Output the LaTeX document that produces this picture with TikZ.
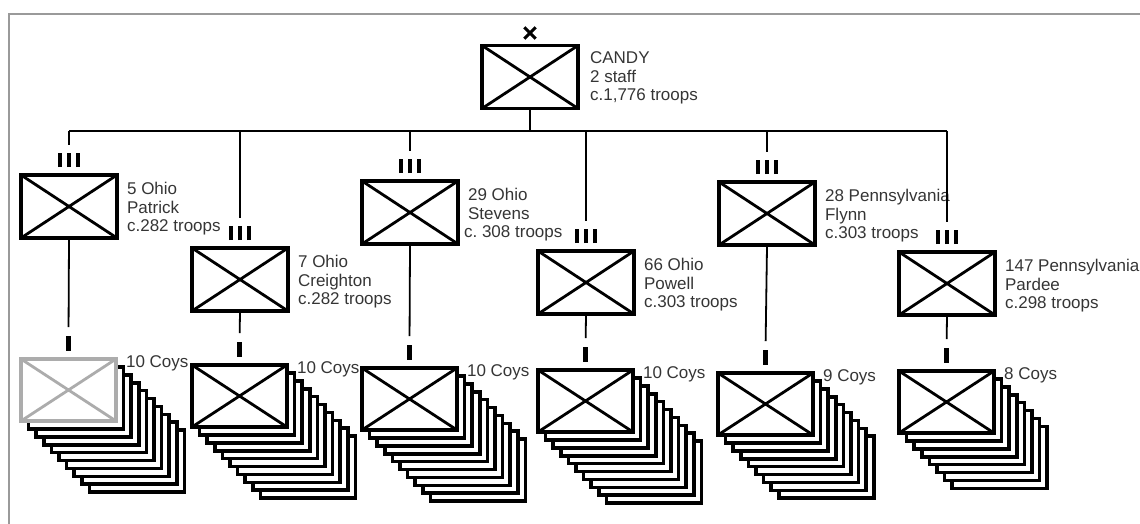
\documentclass[tikz,border=0pt]{standalone}
\usepackage{fontspec}
\setmainfont{Liberation Sans}
\usepackage{xcolor}
\usepackage{tikz}
\usetikzlibrary{calc}
\definecolor{inkgray}{HTML}{353535}
\definecolor{framegray}{HTML}{9A9A9A}
\newcommand{\tribar}{\rule{4.4pt}{14pt}\hspace{4.4pt}\rule{4.4pt}{14pt}\hspace{4.4pt}\rule{4.4pt}{14pt}}
\tikzset{
  unitbox/.style={draw=#1,line width=3.8pt,fill=white,minimum width=96pt,minimum height=63pt,inner sep=0pt,
    path picture={\draw[#1,line width=2.8pt] (path picture bounding box.north west) -- (path picture bounding box.south east)
      (path picture bounding box.south west) -- (path picture bounding box.north east);}},
  unitbox/.default=black,
  coybox/.style={unitbox=#1,minimum width=95pt,minimum height=62pt},
  coybox/.default=black,
  backbox/.style={draw=black,line width=3.6pt,fill=white,minimum width=95pt,minimum height=62pt,inner sep=0pt},
  echelon/.style={inner sep=0pt,outer sep=0pt},
  coydash/.style={fill=black,minimum width=4.4pt,minimum height=15pt,inner sep=0pt,outer sep=0pt},
  regtext/.style={anchor=north west,align=left,inner sep=0pt,text=inkgray,font=\fontsize{17}{18.5}\selectfont},
  coytext/.style={anchor=west,inner sep=0pt,text=inkgray,font=\fontsize{17}{18.5}\selectfont},
  link/.style={black,line width=1.8pt},
  frameline/.style={framegray,line width=1.3pt}
}

\begin{document}
\begin{tikzpicture}[x=1pt,y=-1pt]
  \useasboundingbox (0,0) rectangle (1140,524);
  % frame
  \draw[frameline] (8,14) -- (1140,14);
  \draw[frameline] (9,14) -- (9,524);
  % brigade
  \node[unitbox] (candy) at (530,77) {};
  \node[minimum size=11pt,inner sep=0pt] (xmark) at (530,33) {};
  \draw[line width=3pt] (xmark.north west) -- (xmark.south east) (xmark.south west) -- (xmark.north east);
  \node[regtext] (candytext) at ($(candy.north east)+(10,8)$) {CANDY\\2 staff\\c.1,776 troops};
  \coordinate (busmid) at (530,131);
  \draw[link] (candy.south) -- (busmid);
  % regiments and their companies
  \foreach \n/\bx/\by/\cx/\cy/\k/\col/\lab in {
      1/21/175/21/359/10/gray!65/{5 Ohio\\Patrick\\c.282 troops},
      2/192/248/192/365/10/black/{7 Ohio\\Creighton\\c.282 troops},
      3/362/181/362/368/10/black/{29 Ohio\\Stevens\\\hspace{-4pt}c.\ 308 troops},
      4/538/251/538/370/10/black/{66 Ohio\\Powell\\c.303 troops},
      5/719/182/718/373/9/black/{28 Pennsylvania\\Flynn\\c.303 troops},
      6/899/252/899/371/8/black/{147 Pennsylvania\\Pardee\\c.298 troops}}{
    \node[unitbox] (reg\n) at (\bx+48,\by+31.5) {};
    \node[echelon] (ech\n) at ($(reg\n.north)+(0,-13)$) {\tribar};
    \draw[link,shorten >=8pt] (ech\n.north |- busmid) -- (ech\n.north);
    \node[regtext] (reglab\n) at ($(reg\n.north east)+(8,9)$) {\lab};
    % company stack
    \coordinate (c\n) at (\cx+47.5,\cy+31);
    \pgfmathtruncatemacro\m{\k-1}
    \foreach \j in {\m,...,1}
      \node[backbox] at ($(c\n)+(\j*7.6,\j*7.9)$) {};
    \node[coybox=\col] (coy\n) at (c\n) {};
    \node[coydash] (dash\n) at ($(coy\n.north)+(0,-13.5)$) {};
    \draw[link,shorten >=9pt] (reg\n.south) -- (dash\n.north);
    \node[coytext] (coylab\n) at ($(coy\n.north east)+(8,6)$) {\k\ Coys};
  }
  \draw[link] (reg1.north |- busmid) -- (reg6.north |- busmid);
\end{tikzpicture}
\end{document}
